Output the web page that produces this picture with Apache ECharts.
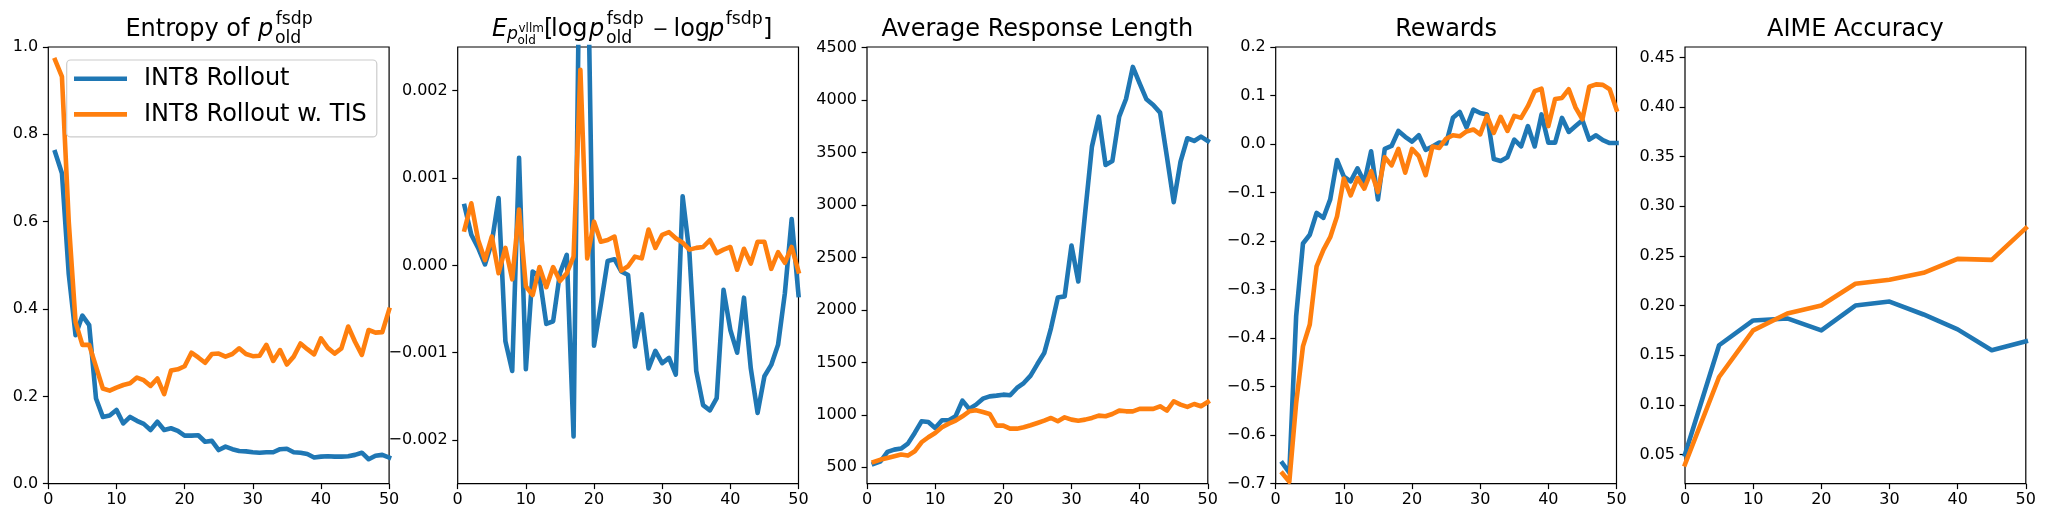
<!DOCTYPE html>
<html><head><meta charset="utf-8">
<script src="https://cdn.jsdelivr.net/npm/echarts@6/dist/echarts.min.js"></script>
<style>html,body{margin:0;padding:0;background:#fff}#c{width:2048px;height:524px}</style>
</head><body><div id="c"></div>
<script>
// ---------- data ----------
const steps = [1,2,3,4,5,6,7,8,9,10,11,12,13,14,15,16,17,18,19,20,21,22,23,24,25,26,27,28,29,30,31,32,33,34,35,36,37,38,39,40,41,42,43,44,45,46,47,48,49,50];
const aimeSteps = [0,5,10,15,20,25,30,35,40,45,50];
const seriesNames = ['INT8 Rollout', 'INT8 Rollout w. TIS'];

const entropyBlue = [0.759,0.711,0.48,0.34,0.385,0.363,0.195,0.153,0.156,0.169,0.138,0.153,0.144,0.137,0.123,0.142,0.123,0.127,0.121,0.110,0.110,0.111,0.096,0.098,0.077,0.085,0.079,0.075,0.074,0.072,0.071,0.072,0.072,0.079,0.080,0.072,0.071,0.068,0.060,0.062,0.063,0.062,0.062,0.063,0.066,0.071,0.056,0.064,0.066,0.060];
const entropyOrange = [0.970,0.932,0.60,0.37,0.318,0.318,0.268,0.218,0.213,0.220,0.226,0.230,0.243,0.237,0.224,0.241,0.205,0.259,0.262,0.269,0.300,0.289,0.277,0.297,0.298,0.291,0.297,0.310,0.297,0.292,0.293,0.318,0.281,0.306,0.273,0.291,0.321,0.308,0.296,0.333,0.311,0.298,0.310,0.360,0.325,0.295,0.352,0.346,0.347,0.398];

const klBlue = [0.00068,0.00035,0.00020,0.00001,0.00026,0.00077,-0.00087,-0.00121,0.00123,-0.00119,-0.00007,-0.00013,-0.00067,-0.00064,-0.00009,0.00012,-0.00196,0.0045,0.0040,-0.00092,-0.00045,0.00005,0.00007,-0.00007,-0.00011,-0.00093,-0.00056,-0.00118,-0.00098,-0.00112,-0.00106,-0.00125,0.00079,0.00014,-0.00121,-0.00160,-0.00166,-0.00152,-0.00028,-0.00074,-0.00100,-0.00037,-0.00118,-0.00169,-0.00127,-0.00114,-0.00091,-0.00032,0.00053,-0.00034];
const klOrange = [0.00041,0.00071,0.00029,0.00006,0.00033,-0.00009,0.00020,-0.00016,0.00064,-0.00024,-0.00034,-0.00002,-0.00025,-0.00002,-0.00018,-0.00009,0.00010,0.00224,0.00008,0.00050,0.00027,0.00029,0.00033,-0.00006,-0.00001,0.00010,0.00008,0.00041,0.00020,0.00035,0.00038,0.00031,0.00026,0.00018,0.00020,0.00021,0.00029,0.00014,0.00018,0.00021,-0.00005,0.00019,0.00002,0.00027,0.00027,-0.00004,0.00015,0.00003,0.00021,-0.00007];

const lenBlue = [532,557,646,668,678,725,827,938,932,875,948,948,986,1135,1056,1097,1154,1176,1183,1192,1186,1256,1303,1373,1484,1589,1827,2119,2129,2614,2271,2922,3557,3843,3383,3420,3843,4011,4317,4160,4008,3954,3881,3462,3027,3414,3637,3611,3652,3611];
const lenOrange = [551,573,589,605,621,611,652,738,786,827,881,916,944,986,1033,1043,1027,1008,897,897,868,868,881,900,922,944,970,938,976,954,944,954,970,992,986,1008,1040,1033,1033,1056,1056,1056,1081,1040,1129,1097,1075,1103,1081,1122];

const rewardBlue = [-0.658,-0.677,-0.355,-0.205,-0.187,-0.142,-0.152,-0.114,-0.033,-0.067,-0.077,-0.050,-0.079,-0.015,-0.114,-0.010,-0.004,0.027,0.015,0.005,0.018,-0.012,-0.005,0.003,0.001,0.054,0.066,0.034,0.071,0.064,0.061,-0.031,-0.035,-0.027,0.009,-0.005,0.037,-0.005,0.061,0.003,0.003,0.054,0.025,0.037,0.049,0.009,0.018,0.008,0.002,0.002];
const rewardOrange = [-0.679,-0.696,-0.534,-0.417,-0.372,-0.252,-0.218,-0.192,-0.149,-0.071,-0.106,-0.070,-0.092,-0.056,-0.099,-0.027,-0.044,-0.010,-0.059,-0.010,-0.025,-0.064,-0.005,-0.008,0.011,0.018,0.016,0.026,0.030,0.020,0.058,0.023,0.056,0.027,0.058,0.054,0.078,0.109,0.114,0.037,0.093,0.095,0.113,0.075,0.051,0.118,0.123,0.122,0.113,0.071];

const aimeBlue = [0.050,0.160,0.185,0.187,0.175,0.200,0.204,0.191,0.176,0.155,0.164];
const aimeOrange = [0.040,0.128,0.175,0.192,0.200,0.222,0.226,0.233,0.247,0.246,0.278];

// tick values
const xTicks = [0,10,20,30,40,50];
const entropyTicks = [0,0.2,0.4,0.6,0.8,1.0];
const klTicks = [-0.002,-0.001,0,0.001,0.002];
const lenTicks = [500,1000,1500,2000,2500,3000,3500,4000,4500];
const rewardTicks = [-0.7,-0.6,-0.5,-0.4,-0.3,-0.2,-0.1,0,0.1,0.2];
const aimeTicks = [0.05,0.10,0.15,0.20,0.25,0.30,0.35,0.40,0.45];

// ---------- layout / style ----------
const FONT = 'DejaVu Sans';
const BLUE = '#1f77b4', ORANGE = '#ff7f0e';
const GRID_LEFT = [48.3, 457.7, 867, 1275.7, 1685];
const GRID_W = 340.8, GRID_TOP = 47, GRID_H = 436.7;
const TICK_FS = 16, TITLE_FS = 24, SUB_FS = 17.3, SUBSUB_FS = 12, LEGEND_FS = 24;

function fmt(d) { return v => (v < -1e-12 ? '\u2212' : '') + Math.abs(v).toFixed(d); }

const yConf = [
  {min: 0, max: 1, ticks: entropyTicks, dec: 1},
  {min: -0.0025, max: 0.0025, ticks: klTicks, dec: 3},
  {min: 343, max: 4507, ticks: lenTicks, dec: 0},
  {min: -0.7, max: 0.2, ticks: rewardTicks, dec: 1},
  {min: 0.0205, max: 0.4605, ticks: aimeTicks, dec: 2}
];

const grids = GRID_LEFT.map(l => ({left: l, top: GRID_TOP, width: GRID_W, height: GRID_H,
  show: true, borderColor: '#000', borderWidth: 1.2, backgroundColor: 'transparent'}));

const tickStyle = {color: '#000', width: 1.2};
const xAxes = GRID_LEFT.map((_, i) => ({
  type: 'value', gridIndex: i, min: 0, max: 50, position: 'bottom',
  axisLine: {show: false, onZero: false}, splitLine: {show: false},
  axisTick: {show: true, customValues: xTicks, length: 5.4, lineStyle: tickStyle},
  axisLabel: {customValues: xTicks, margin: 8, fontFamily: FONT, fontSize: TICK_FS, color: '#000', formatter: v => String(v)}
}));
const yAxes = yConf.map((c, i) => ({
  type: 'value', gridIndex: i, min: c.min, max: c.max, position: 'left',
  axisLine: {show: false, onZero: false}, splitLine: {show: false},
  axisTick: {show: true, customValues: c.ticks, length: 5.4, lineStyle: tickStyle},
  axisLabel: {customValues: c.ticks, margin: 10, fontFamily: FONT, fontSize: TICK_FS, color: '#000', formatter: fmt(c.dec)}
}));

function mk(i, xs, ys, name, color) {
  return {
    type: 'line', name: name, xAxisIndex: i, yAxisIndex: i,
    data: xs.map((x, j) => [x, ys[j]]),
    showSymbol: false, symbol: 'none', clip: true, color: color,
    lineStyle: {color: color, width: 4.6, join: 'round', cap: 'square'},
    itemStyle: {color: color}, emphasis: {disabled: true}
  };
}
const series = [
  mk(0, steps, entropyBlue, seriesNames[0], BLUE), mk(0, steps, entropyOrange, seriesNames[1], ORANGE),
  mk(1, steps, klBlue, seriesNames[0], BLUE), mk(1, steps, klOrange, seriesNames[1], ORANGE),
  mk(2, steps, lenBlue, seriesNames[0], BLUE), mk(2, steps, lenOrange, seriesNames[1], ORANGE),
  mk(3, steps, rewardBlue, seriesNames[0], BLUE), mk(3, steps, rewardOrange, seriesNames[1], ORANGE),
  mk(4, aimeSteps, aimeBlue, seriesNames[0], BLUE), mk(4, aimeSteps, aimeOrange, seriesNames[1], ORANGE)
];

// ---------- titles (as text pieces, mathtext-like) ----------
const BASE = 38.3;
const MID = s => 0.346 * s;
function t(text, x, base, size, italic, align) {
  return {type: 'text', x: x, y: base - MID(size), z: 10, silent: true,
    style: {text: text, fontFamily: FONT, fontSize: size, fontStyle: italic ? 'italic' : 'normal',
      fill: '#000', align: align || 'left', verticalAlign: 'middle'}};
}
const graphics = [
  // Entropy of p_old^fsdp
  t('Entropy of', 125.4, BASE, TITLE_FS),
  t('p', 258, BASE, TITLE_FS, true),
  t('fsdp', 275.7, 25.5, SUB_FS),
  t('old', 275, 44.2, SUB_FS),
  // E_{p_old^vllm}[log p_old^fsdp - log p^fsdp]
  t('E', 492, BASE, TITLE_FS, true),
  t('p', 507, 40, SUB_FS, true),
  t('vllm', 518.5, 33.5, SUBSUB_FS),
  t('old', 517.5, 45.5, SUBSUB_FS),
  t('[', 544, BASE, TITLE_FS),
  t('log', 551, BASE, TITLE_FS),
  t('p', 589, BASE, TITLE_FS, true),
  t('fsdp', 606.7, 25.5, SUB_FS),
  t('old', 606, 44.2, SUB_FS),
  t('\u2212', 652.5, 36.7, 19),
  t('log', 673.5, BASE, TITLE_FS),
  t('p', 709, BASE, TITLE_FS, true),
  t('fsdp', 725.7, 25.5, SUB_FS),
  t(']', 763, BASE, TITLE_FS),
  // plain titles
  t('Average Response Length', GRID_LEFT[2] + GRID_W / 2, BASE, TITLE_FS, false, 'center'),
  t('Rewards', GRID_LEFT[3] + GRID_W / 2, BASE, TITLE_FS, false, 'center'),
  t('AIME Accuracy', GRID_LEFT[4] + GRID_W / 2, BASE, TITLE_FS, false, 'center')
];

const chart = echarts.init(document.getElementById('c'), null, {renderer: 'canvas'});
chart.setOption({
  animation: false,
  backgroundColor: '#fff',
  grid: grids,
  xAxis: xAxes,
  yAxis: yAxes,
  legend: {
    data: [{name: seriesNames[0], icon: 'rect'}, {name: seriesNames[1], icon: 'rect'}],
    orient: 'vertical', left: 66.7, top: 60,
    itemWidth: 53, itemHeight: 4.6, itemGap: 11.6,
    padding: [6.8, 10, 10.5, 7.3],
    backgroundColor: 'rgba(255,255,255,0.8)', borderColor: '#cccccc', borderWidth: 1.2, borderRadius: 4,
    selectedMode: false,
    textStyle: {fontFamily: FONT, fontSize: LEGEND_FS, color: '#000', padding: [0, 0, 0, 12]}
  },
  graphic: graphics,
  series: series
});
</script></body></html>
